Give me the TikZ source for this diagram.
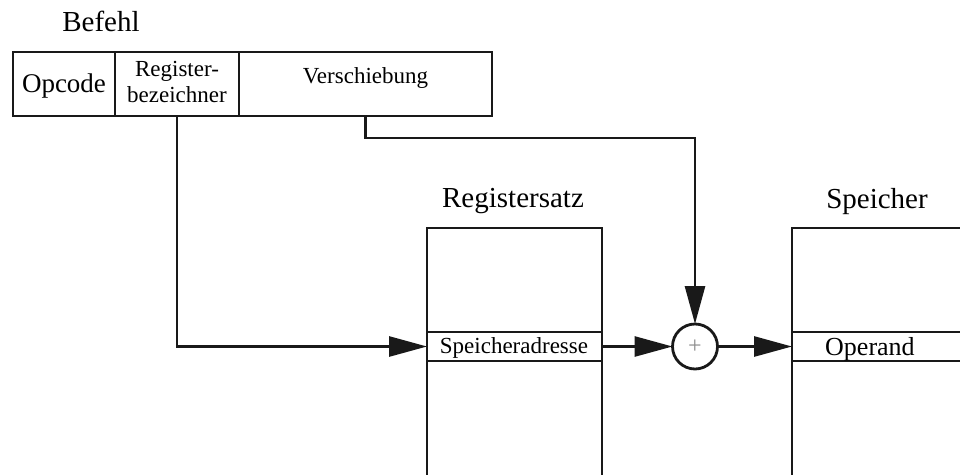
\documentclass[tikz,border=0pt]{standalone}
\usepackage{fontspec}
\setmainfont{Liberation Serif}
\usetikzlibrary{arrows.meta}
\begin{document}
\begin{tikzpicture}[x=1pt,y=-1pt,
  box/.style={draw=black!90, line width=2.8pt, inner sep=0pt, outer sep=0pt, anchor=north west},
  conn/.style={draw=black!90, line width=2.8pt},
  arr/.style={conn, -{Triangle[length=38pt,width=20pt]}},
  title/.style={font=\fontsize{29}{32}\selectfont, anchor=base, inner sep=0pt},
  small/.style={font=\fontsize{23}{26}\selectfont, inner sep=0pt},
]
\useasboundingbox (0,0) rectangle (960,474);
\clip (0,0) rectangle (960,474);

% instruction word
\node[title] (befehl) at (101,31) {Befehl};
\node[box, minimum width=102pt, minimum height=64pt] (opc) at (13,52) {};
\node[box, minimum width=124pt, minimum height=64pt] (rb) at (115,52) {};
\node[box, minimum width=253pt, minimum height=64pt] (vs) at (239,52) {};
\node[font=\fontsize{27}{30}\selectfont, anchor=base, inner sep=0pt] (opctxt) at (64,92) {Opcode};
\node[small, anchor=base, align=center] (rbtxt1) at (177,76) {Register-};
\node[small, anchor=base, align=center] (rbtxt2) at (177,102) {bezeichner};
\node[small, anchor=base] (vstxt) at (365.5,83) {Verschiebung};

% register file
\node[title] (rstitle) at (513,207) {Registersatz};
\node[box, minimum width=175pt, minimum height=270pt] (rs) at (427,228) {};
\node[box, minimum width=175pt, minimum height=29pt] (sa) at (427,332) {};
\node[small, anchor=base] (satxt) at (514,353) {Speicheradresse};

% memory
\node[title] (mtitle) at (877,208) {Speicher};
\node[box, minimum width=260pt, minimum height=270pt] (mem) at (792,228) {};
\node[box, minimum width=260pt, minimum height=29pt] (op) at (792,332) {};
\node[font=\fontsize{26}{29}\selectfont, anchor=base west, inner sep=0pt] (optxt) at (825,355) {Operand};

% adder, on the line of the address row
\node[circle, draw=black!90, line width=2.8pt, minimum size=45pt, inner sep=0pt, outer sep=0pt] (plus) at (sa.center -| 695,0) {};
\node[text=black!45, font=\fontsize{24}{24}\selectfont, inner sep=0pt] (plussign) at (plus.center) {+};

% connectors
\draw[arr] (rb.south) |- (sa.west);
\draw[arr] (vs.south) -- ++(0,22) -| (plus.north);
\draw[arr] (sa.east) -- (plus.west);
\draw[arr] (plus.east) -- (op.west);
\end{tikzpicture}
\end{document}
